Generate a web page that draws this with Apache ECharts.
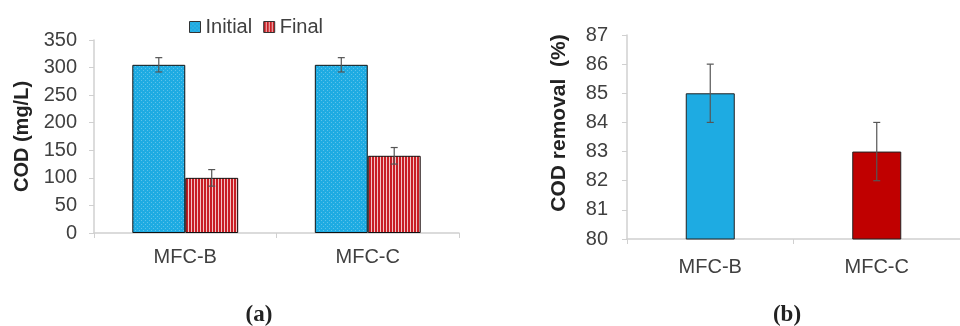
<!DOCTYPE html>
<html><head><meta charset="utf-8">
<script src="https://cdn.jsdelivr.net/npm/echarts@6/dist/echarts.min.js"></script>
<style>html,body{margin:0;padding:0;background:#fff}#c{width:960px;height:326px}</style>
</head><body><div id="c"></div>
<script>
// ---- data ----
const categories = ['MFC-B', 'MFC-C'];
const seriesNames = ['Initial', 'Final'];
const initialCOD = [305, 305];
const initialErr = [13, 13];
const finalCOD = [100, 140];
const finalErr = [15, 15];
const removalPct = [85, 83];
const removalErr = [1, 1];
const codAxis = { min: 0, max: 350, interval: 50 };
const removalAxis = { min: 80, max: 87, interval: 1 };
const captions = ['(a)', '(b)'];

// ---- patterns ----
function dotPattern() {
  const c = document.createElement('canvas'); c.width = 4; c.height = 4;
  const g = c.getContext('2d');
  g.fillStyle = '#1EABE2'; g.fillRect(0, 0, 4, 4);
  g.fillStyle = 'rgba(255,255,255,0.28)';
  g.fillRect(1, 0, 1, 1); g.fillRect(3, 2, 1, 1);
  return { image: c, repeat: 'repeat' };
}
function stripePattern() {
  const c = document.createElement('canvas'); c.width = 3; c.height = 4;
  const g = c.getContext('2d');
  g.fillStyle = '#F3C4C4'; g.fillRect(0, 0, 3, 4);
  g.fillStyle = '#C81E24'; g.fillRect(0, 0, 2, 4);
  return { image: c, repeat: 'repeat' };
}

const font = 'Liberation Sans, Arial, sans-serif';
const txt = '#404040';
const axisGray = '#D0D0D0';
const errColor = '#555555';
const catGapA = 0.42;

function errItem(offsetFactor) {
  return function (params, api) {
    const x = api.value(0), lo = api.value(1), hi = api.value(2);
    const band = api.size([1, 0])[0];
    const off = band * offsetFactor;
    const p1 = api.coord([x, lo]), p2 = api.coord([x, hi]);
    const cx = p1[0] + off, cap = 3.5;
    const st = { stroke: errColor, lineWidth: 1.2 };
    return { type: 'group', children: [
      { type: 'line', shape: { x1: cx, y1: p1[1], x2: cx, y2: p2[1] }, style: st },
      { type: 'line', shape: { x1: cx - cap, y1: p1[1], x2: cx + cap, y2: p1[1] }, style: st },
      { type: 'line', shape: { x1: cx - cap, y1: p2[1], x2: cx + cap, y2: p2[1] }, style: st }
    ]};
  };
}
function errData(vals, errs) { return vals.map((v, i) => [i, v - errs[i], v + errs[i]]); }

const barW = (1 - catGapA) / 4;

const option = {
  animation: false,
  title: [
    { text: captions[0], left: 254, top: 299, textAlign: 'center',
      textStyle: { fontFamily: 'Liberation Serif, serif', fontWeight: 'bold', fontSize: 23, color: '#222' } },
    { text: captions[1], left: 782, top: 299, textAlign: 'center',
      textStyle: { fontFamily: 'Liberation Serif, serif', fontWeight: 'bold', fontSize: 23, color: '#222' } }
  ],
  legend: {
    data: seriesNames, left: 184, top: 12, itemGap: 11, itemWidth: 11, itemHeight: 11, icon: 'rect',
    textStyle: { fontFamily: font, fontSize: 20, color: txt },
    itemStyle: { borderColor: '#333', borderWidth: 1 }
  },
  grid: [
    { left: 94, top: 40, width: 365, height: 193 },
    { left: 627, top: 35, width: 342, height: 204 }
  ],
  xAxis: [
    { type: 'category', gridIndex: 0, data: categories,
      axisLine: { lineStyle: { color: axisGray, width: 1.5 } },
      axisTick: { show: true, length: 5, lineStyle: { color: axisGray } },
      axisLabel: { fontFamily: font, fontSize: 20, color: txt, margin: 14 } },
    { type: 'category', gridIndex: 1, data: categories,
      axisLine: { lineStyle: { color: axisGray, width: 1.5 } },
      axisTick: { show: true, length: 5, lineStyle: { color: axisGray } },
      axisLabel: { fontFamily: font, fontSize: 20, color: txt, margin: 18 } }
  ],
  yAxis: [
    { type: 'value', gridIndex: 0, min: codAxis.min, max: codAxis.max, interval: codAxis.interval,
      name: 'COD (mg/L)', nameLocation: 'middle', nameGap: 62, nameRotate: 90,
      nameTextStyle: { fontFamily: font, fontWeight: 'bold', fontSize: 20, color: '#222' },
      axisLine: { show: true, lineStyle: { color: axisGray, width: 1.5 } },
      axisTick: { show: true, length: 5, lineStyle: { color: axisGray } },
      splitLine: { show: false },
      axisLabel: { fontFamily: font, fontSize: 20, color: txt, margin: 17 } },
    { type: 'value', gridIndex: 1, min: removalAxis.min, max: removalAxis.max, interval: removalAxis.interval,
      name: 'COD removal  (%)', nameLocation: 'middle', nameGap: 57, nameRotate: 90,
      nameTextStyle: { fontFamily: font, fontWeight: 'bold', fontSize: 21, color: '#222', padding: [0, 0, 0, 28] },
      axisLine: { show: true, lineStyle: { color: axisGray, width: 1.5 } },
      axisTick: { show: true, length: 5, lineStyle: { color: axisGray } },
      splitLine: { show: false },
      axisLabel: { fontFamily: font, fontSize: 20, color: txt, margin: 19 } }
  ],
  series: [
    { name: seriesNames[0], type: 'bar', xAxisIndex: 0, yAxisIndex: 0, data: initialCOD,
      barGap: '0%', barCategoryGap: (catGapA * 100) + '%',
      itemStyle: { color: dotPattern(), borderColor: '#111', borderWidth: 1 } },
    { name: seriesNames[1], type: 'bar', xAxisIndex: 0, yAxisIndex: 0, data: finalCOD,
      barGap: '0%', barCategoryGap: (catGapA * 100) + '%',
      itemStyle: { color: stripePattern(), borderColor: '#111', borderWidth: 1 } },
    { type: 'custom', xAxisIndex: 0, yAxisIndex: 0, renderItem: errItem(-barW), data: errData(initialCOD, initialErr), z: 10 },
    { type: 'custom', xAxisIndex: 0, yAxisIndex: 0, renderItem: errItem(barW), data: errData(finalCOD, finalErr), z: 10 },
    { type: 'bar', xAxisIndex: 1, yAxisIndex: 1, barWidth: 49,
      data: removalPct.map((v, i) => ({ value: v, itemStyle: { color: i === 0 ? '#1EABE2' : '#C00000' } })),
      itemStyle: { borderColor: '#222', borderWidth: 1 } },
    { type: 'custom', xAxisIndex: 1, yAxisIndex: 1, renderItem: errItem(0), data: errData(removalPct, removalErr), z: 10 }
  ]
};
const chart = echarts.init(document.getElementById('c'), null, { renderer: 'canvas' });
chart.setOption(option);
</script></body></html>
